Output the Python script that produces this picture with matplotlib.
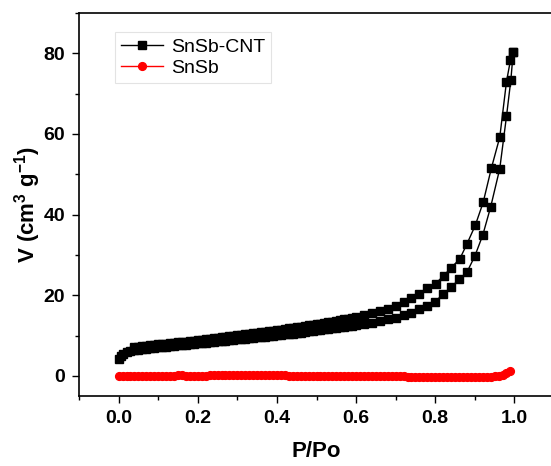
import matplotlib
matplotlib.use("Agg")
import matplotlib.pyplot as plt
from matplotlib.ticker import MultipleLocator

plt.rcParams['font.family'] = ['Liberation Sans', 'DejaVu Sans']
plt.rcParams['mathtext.fontset'] = 'custom'
plt.rcParams['mathtext.rm'] = 'Liberation Sans:bold'
plt.rcParams['mathtext.it'] = 'Liberation Sans:bold'
plt.rcParams['mathtext.bf'] = 'Liberation Sans:bold'

# SnSb-CNT adsorption branch
cnt_ads_p = [0.001, 0.005, 0.01, 0.02, 0.03, 0.04, 0.05, 0.06, 0.07, 0.08, 0.09,
             0.10, 0.11, 0.12, 0.13, 0.14, 0.15, 0.16, 0.17, 0.18, 0.19,
             0.20, 0.21, 0.22, 0.23, 0.24, 0.25, 0.26, 0.27, 0.28, 0.29,
             0.30, 0.31, 0.32, 0.33, 0.34, 0.35, 0.36, 0.37, 0.38, 0.39,
             0.40, 0.41, 0.42, 0.43, 0.44, 0.45, 0.46, 0.47, 0.48, 0.49,
             0.50, 0.51, 0.52, 0.53, 0.54, 0.55, 0.56, 0.57, 0.58, 0.59,
             0.60, 0.62, 0.64, 0.66, 0.68, 0.70, 0.72, 0.74, 0.76, 0.78,
             0.80, 0.82, 0.84, 0.86, 0.88, 0.90, 0.92, 0.94, 0.963, 0.980,
             0.991, 0.997]
cnt_ads_v = [4.3, 4.9, 5.4, 5.9, 6.15, 6.3, 6.45, 6.6, 6.75, 6.85, 6.95,
             7.05, 7.15, 7.25, 7.35, 7.45, 7.55, 7.65, 7.75, 7.85, 7.95,
             8.05, 8.15, 8.25, 8.35, 8.45, 8.55, 8.65, 8.75, 8.85, 8.95,
             9.05, 9.15, 9.25, 9.35, 9.45, 9.55, 9.65, 9.75, 9.85, 9.95,
             10.05, 10.18, 10.3, 10.4, 10.5, 10.62, 10.75, 10.88, 11.0, 11.12,
             11.25, 11.38, 11.5, 11.65, 11.8, 11.95, 12.1, 12.22, 12.35, 12.48,
             12.6, 12.9, 13.2, 13.6, 14.0, 14.4, 15.0, 15.7, 16.5, 17.3,
             18.4, 20.3, 22.0, 23.9, 25.7, 29.7, 34.9, 41.9, 51.4, 64.4,
             73.4, 80.3]

# SnSb-CNT desorption branch
cnt_des_p = [0.997, 0.990, 0.980, 0.963, 0.942, 0.921, 0.901, 0.880, 0.862, 0.840,
             0.821, 0.801, 0.780, 0.760, 0.740, 0.720, 0.700, 0.68, 0.66, 0.64, 0.62,
             0.60, 0.59, 0.58, 0.57, 0.56, 0.55, 0.54, 0.53, 0.52, 0.51,
             0.50, 0.49, 0.48, 0.47, 0.46, 0.45, 0.44, 0.43, 0.42, 0.41,
             0.40, 0.39, 0.38, 0.37, 0.36, 0.35, 0.34, 0.33, 0.32, 0.31,
             0.30, 0.29, 0.28, 0.27, 0.26, 0.25, 0.24, 0.23, 0.22, 0.21,
             0.20, 0.19, 0.18, 0.17, 0.16, 0.15, 0.14, 0.13, 0.12, 0.11,
             0.10, 0.09, 0.08, 0.07, 0.06, 0.05, 0.04]
cnt_des_v = [80.3, 78.3, 73.0, 59.2, 51.6, 43.0, 37.3, 32.7, 29.0, 26.8,
             24.8, 22.9, 21.7, 20.3, 19.3, 18.3, 17.3, 16.6, 16.0, 15.5, 15.0,
             14.6, 14.4, 14.2, 14.0, 13.8, 13.6, 13.4, 13.25, 13.1, 12.95,
             12.8, 12.65, 12.5, 12.35, 12.2, 12.05, 11.9, 11.75, 11.6, 11.45,
             11.3, 11.18, 11.05, 10.92, 10.8, 10.68, 10.55, 10.42, 10.3, 10.18,
             10.05, 9.92, 9.8, 9.68, 9.55, 9.42, 9.3, 9.18, 9.05, 8.95,
             8.85, 8.72, 8.6, 8.5, 8.4, 8.3, 8.2, 8.1, 8.0, 7.9,
             7.8, 7.7, 7.6, 7.48, 7.35, 7.22, 7.1]

# SnSb
snsb_p = [0.001, 0.01, 0.02, 0.03, 0.04, 0.05, 0.06, 0.07, 0.08, 0.09,
          0.10, 0.11, 0.12, 0.13, 0.14, 0.15, 0.16, 0.17, 0.18, 0.19,
          0.20, 0.21, 0.22, 0.23, 0.24, 0.25, 0.26, 0.27, 0.28, 0.29,
          0.30, 0.31, 0.32, 0.33, 0.34, 0.35, 0.36, 0.37, 0.38, 0.39,
          0.40, 0.41, 0.42, 0.43, 0.44, 0.45, 0.46, 0.47, 0.48, 0.49,
          0.50, 0.51, 0.52, 0.53, 0.54, 0.55, 0.56, 0.57, 0.58, 0.59,
          0.60, 0.61, 0.62, 0.63, 0.64, 0.65, 0.66, 0.67, 0.68, 0.69,
          0.70, 0.71, 0.72, 0.73, 0.74, 0.75, 0.76, 0.77, 0.78, 0.79,
          0.80, 0.81, 0.82, 0.83, 0.84, 0.85, 0.86, 0.87, 0.88, 0.89,
          0.90, 0.91, 0.92, 0.93, 0.94, 0.95, 0.96, 0.97, 0.98, 0.99]
snsb_v = [-0.1, -0.1, 0.0, 0.0, 0.0, 0.0, 0.0, 0.0, 0.0, 0.0,
          0.0, 0.0, 0.0, 0.0, 0.0, 0.1, 0.1, 0.0, 0.0, 0.0,
          0.0, 0.0, 0.0, 0.1, 0.1, 0.1, 0.1, 0.1, 0.1, 0.1,
          0.1, 0.1, 0.1, 0.1, 0.1, 0.1, 0.2, 0.1, 0.1, 0.1,
          0.1, 0.1, 0.1, 0.0, 0.0, 0.0, 0.0, 0.0, 0.0, 0.0,
          0.0, 0.0, 0.0, 0.0, 0.0, 0.0, 0.0, 0.0, -0.1, -0.1,
          -0.1, -0.1, -0.1, -0.1, -0.1, -0.1, -0.1, -0.1, -0.1, -0.1,
          -0.1, -0.1, -0.1, -0.2, -0.2, -0.2, -0.2, -0.2, -0.2, -0.2,
          -0.2, -0.2, -0.3, -0.3, -0.3, -0.3, -0.3, -0.3, -0.3, -0.3,
          -0.3, -0.3, -0.3, -0.2, -0.2, -0.1, 0.0, 0.2, 0.6, 1.2]

x_ticks = [0.0, 0.2, 0.4, 0.6, 0.8, 1.0]
y_ticks = [0, 20, 40, 60, 80]

fig = plt.figure(figsize=(5.51, 4.66), dpi=100)
ax = fig.add_axes([79 / 551, 1 - 396 / 466, (554 - 79) / 551, (396 - 13) / 466])

ax.plot(cnt_ads_p, cnt_ads_v, color='black', lw=1.0, marker='s', ms=5.3,
        mec='black', mfc='black', label='SnSb-CNT')
ax.plot(cnt_des_p, cnt_des_v, color='black', lw=1.0, marker='s', ms=5.3,
        mec='black', mfc='black')
ax.plot(snsb_p, snsb_v, color='red', lw=1.0, marker='o', ms=5.6,
        mec='red', mfc='red', label='SnSb')

ax.set_xlim(-0.1, 1.1)
ax.set_ylim(-5, 90)
ax.set_xticks(x_ticks)
ax.set_yticks(y_ticks)
ax.set_xticklabels([f"{t:.1f}" for t in x_ticks])
ax.set_yticklabels([str(t) for t in y_ticks])
ax.xaxis.set_minor_locator(MultipleLocator(0.1))
ax.yaxis.set_minor_locator(MultipleLocator(10))
ax.tick_params(which='major', direction='out', length=5, width=1.0, labelsize=14, pad=5)
ax.tick_params(which='minor', direction='out', length=3, width=1.0)
for lab in ax.get_xticklabels() + ax.get_yticklabels():
    lab.set_fontweight('bold')
ax.spines['right'].set_visible(False)
for s in ['left', 'bottom', 'top']:
    ax.spines[s].set_linewidth(1.2)

ax.set_xlabel('P/Po', fontsize=16, fontweight='bold', labelpad=10)
ax.set_ylabel('V (cm$^3$ g$^{-1}$)', fontsize=16, fontweight='bold', labelpad=0)

leg = ax.legend(loc='upper left', bbox_to_anchor=(0.055, 0.975), fontsize=14,
                frameon=True, fancybox=False, handlelength=2.2, handletextpad=0.4,
                borderpad=0.3, labelspacing=0.2)
leg.get_frame().set_edgecolor('#dddddd')
leg.get_frame().set_linewidth(0.8)

fig.savefig('out.png', dpi=100)
